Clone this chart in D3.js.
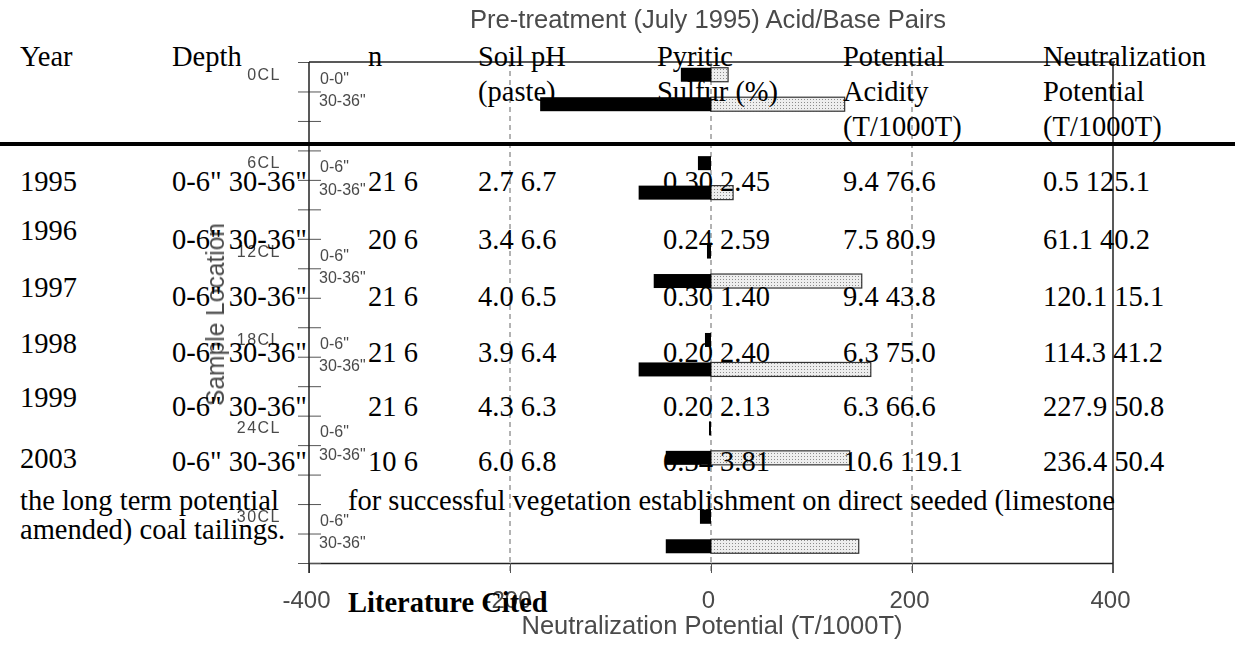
<!DOCTYPE html>
<html>
<head>
<meta charset="utf-8">
<script src="https://cdn.jsdelivr.net/npm/d3@7"></script>
<style>
  body { margin: 0; background: #fff; }
  .tbl { font-family: "Liberation Serif", "Times New Roman", serif; font-size: 28.5px; fill: #000; }
  .cht { font-family: "Liberation Sans", Arial, sans-serif; fill: #4a4a4a; }
</style>
</head>
<body>
<div id="page"></div>
<script>
// ---- chart data (acid / base pairs, T/1000T) ----
const locations = ['0CL', '6CL', '12CL', '18CL', '24CL', '30CL']
const depthTop = ['0-0"', '0-6"', '0-6"', '0-6"', '0-6"', '0-6"']
const depthBottom = ['30-36"', '30-36"', '30-36"', '30-36"', '30-36"', '30-36"']
const acidTop = [-30, -13, -4, -6, -2, -11]
const baseTop = [17, 0, 0, 0, 0, 0]
const acidBottom = [-170, -72, -57, -72, -45, -45]
const baseBottom = [133, 22, 150, 159, 138, 147]
const xTicks = [-400, -200, 0, 200, 400]
const gridTicks = [-200, 0, 200]

// ---- table text (page behind the chart) ----
const years = ['1995', '1996', '1997', '1998', '1999', '2003']
const depths = ['0-6" 30-36"', '0-6" 30-36"', '0-6" 30-36"', '0-6" 30-36"', '0-6" 30-36"', '0-6" 30-36"']
const nVals = ['21 6', '20 6', '21 6', '21 6', '21 6', '10 6']
const phVals = ['2.7 6.7', '3.4 6.6', '4.0 6.5', '3.9 6.4', '4.3 6.3', '6.0 6.8']
const sulfurVals = ['0.30 2.45', '0.24 2.59', '0.30 1.40', '0.20 2.40', '0.20 2.13', '0.34 3.81']
const acidityVals = ['9.4 76.6', '7.5 80.9', '9.4 43.8', '6.3 75.0', '6.3 66.6', '10.6 119.1']
const npVals = ['0.5 125.1', '61.1 40.2', '120.1 15.1', '114.3 41.2', '227.9 50.8', '236.4 50.4']
const headers = [['Year'], ['Depth'], ['n'], ['Soil pH', '(paste)'], ['Pyritic', 'Sulfur (%)'],
  ['Potential', 'Acidity', '(T/1000T)'], ['Neutralization', 'Potential', '(T/1000T)']]

const W = 1235, H = 647

const svg = d3.select('#page').append('svg')
  .attr('width', W)
  .attr('height', H)

const defs = svg.append('defs')
const pat = defs.append('pattern')
  .attr('id', 'stipple')
  .attr('width', 3).attr('height', 3)
  .attr('patternUnits', 'userSpaceOnUse')
pat.append('rect').attr('width', 3).attr('height', 3).attr('fill', '#eeeeee')
pat.append('rect').attr('width', 1).attr('height', 1).attr('fill', '#8c8c8c')

// ------------------ table text ------------------
const tbl = svg.append('g').attr('class', 'tbl')
const headX = [20, 172, 368, 478, 657, 843, 1043]
const headBase = [66, 101, 136]
headers.forEach((lines, i) => {
  lines.forEach((t, k) => {
    tbl.append('text').attr('x', headX[i]).attr('y', headBase[k]).text(t)
  })
})

// thick rule under header
tbl.append('rect')
  .attr('x', 0).attr('y', 142)
  .attr('width', W).attr('height', 4)
  .attr('fill', '#000')

const rowBase = [191, 249, 306, 362, 416, 471]
const yearLift = [0, 9, 9, 9, 9, 3]
const cols = [
  { x: 172, vals: depths },
  { x: 368, vals: nVals },
  { x: 478, vals: phVals },
  { x: 663, vals: sulfurVals },
  { x: 843, vals: acidityVals },
  { x: 1043, vals: npVals }
]
years.forEach((yr, r) => {
  tbl.append('text').attr('x', 20).attr('y', rowBase[r] - yearLift[r]).text(yr)
  cols.forEach(c => {
    tbl.append('text').attr('x', c.x).attr('y', rowBase[r]).text(c.vals[r])
  })
})

tbl.append('text').attr('x', 20).attr('y', 510).text('the long term potential')
tbl.append('text').attr('x', 348).attr('y', 510)
  .text('for successful vegetation establishment on direct seeded (limestone')
tbl.append('text').attr('x', 20).attr('y', 539).text('amended) coal tailings.')
tbl.append('text').attr('x', 348).attr('y', 612)
  .style('font-weight', 'bold')
  .text('Literature Cited')

// ------------------ chart ------------------
const plot = { left: 309, right: 1113, top: 62, bottom: 563 }

const chart = svg.append('g')
  .attr('class', 'cht')
  .style('mix-blend-mode', 'multiply')

const x = d3.scaleLinear()
  .domain([-400, 400])
  .range([plot.left, plot.right])

// 17 slots: two bars + one gap per location (last gap dropped)
const nSlots = locations.length * 3 - 1
const slot = d3.scaleLinear()
  .domain([0, nSlots])
  .range([plot.top, plot.bottom])
const barH = 14

// dashed grid lines
chart.append('g')
  .selectAll('line')
  .data(gridTicks)
  .join('line')
  .attr('x1', d => x(d)).attr('x2', d => x(d))
  .attr('y1', plot.top).attr('y2', plot.bottom + 10)
  .attr('stroke', '#666')
  .attr('stroke-width', 1)
  .attr('stroke-dasharray', '5,4')

// bar rows
const rows = []
locations.forEach((loc, g) => {
  rows.push({ s: g * 3, acid: acidTop[g], base: baseTop[g] })
  rows.push({ s: g * 3 + 1, acid: acidBottom[g], base: baseBottom[g] })
})
const cy = s => slot(s + 0.5) - 2

const bars = chart.append('g')
bars.selectAll('rect.base')
  .data(rows.filter(d => d.base > 0))
  .join('rect')
  .attr('class', 'base')
  .attr('x', d => x(0))
  .attr('y', d => cy(d.s) - barH / 2)
  .attr('width', d => x(d.base) - x(0))
  .attr('height', barH)
  .attr('fill', 'url(#stipple)')
  .attr('stroke', '#333')
  .attr('stroke-width', 1.2)
bars.selectAll('rect.acid')
  .data(rows)
  .join('rect')
  .attr('class', 'acid')
  .attr('x', d => x(d.acid))
  .attr('y', d => cy(d.s) - barH / 2)
  .attr('width', d => x(0) - x(d.acid))
  .attr('height', barH)
  .attr('fill', '#000')

// frame: top and right
chart.append('line')
  .attr('x1', plot.left).attr('x2', plot.right + 2)
  .attr('y1', plot.top).attr('y2', plot.top)
  .attr('stroke', '#222').attr('stroke-width', 1.5)
chart.append('line')
  .attr('x1', plot.right).attr('x2', plot.right)
  .attr('y1', plot.top).attr('y2', plot.bottom + 10)
  .attr('stroke', '#222').attr('stroke-width', 1.5)

// x axis
const xAxis = chart.append('g')
  .attr('transform', `translate(0,${plot.bottom})`)
  .call(d3.axisBottom(x).tickValues(xTicks).tickSize(10).tickSizeOuter(0).tickPadding(18)
    .tickFormat(d => String(d)))
xAxis.select('.domain').attr('stroke', '#222').attr('stroke-width', 1.5)
xAxis.selectAll('.tick line').attr('stroke', '#555')
xAxis.selectAll('.tick text')
  .attr('fill', '#4a4a4a')
  .style('font-family', '"Liberation Sans", Arial, sans-serif')
  .style('font-size', '24px')
  .attr('dx', -3)

// y axis: ticks at every slot boundary, crossing the axis line
const yAxis = chart.append('g')
  .attr('transform', `translate(${plot.left},0)`)
  .call(d3.axisLeft(slot).tickValues(d3.range(nSlots + 1)).tickSize(11).tickSizeOuter(0).tickFormat(''))
yAxis.select('.domain').remove()
yAxis.selectAll('.tick line').attr('x2', 12).attr('x1', -11).attr('stroke', '#555')
yAxis.append('line')
  .attr('x1', 0).attr('x2', 0)
  .attr('y1', plot.top).attr('y2', plot.bottom + 10)
  .attr('stroke', '#222').attr('stroke-width', 1.5)

// location labels and depth labels
const labels = chart.append('g')
labels.selectAll('text.loc')
  .data(locations)
  .join('text')
  .attr('class', 'loc')
  .attr('x', plot.left - 28)
  .attr('y', (d, g) => cy(g * 3) + 5)
  .attr('text-anchor', 'end')
  .style('font-size', '16px')
  .style('letter-spacing', '1.5px')
  .text(d => d)
labels.selectAll('text.dtop')
  .data(depthTop)
  .join('text')
  .attr('class', 'dtop')
  .attr('x', plot.left + 11)
  .attr('y', (d, g) => cy(g * 3) + 9)
  .style('font-size', '16px')
  .text(d => d)
labels.selectAll('text.dbot')
  .data(depthBottom)
  .join('text')
  .attr('class', 'dbot')
  .attr('x', plot.left + 10)
  .attr('y', (d, g) => cy(g * 3 + 1) + 2)
  .style('font-size', '16px')
  .text(d => d)

// axis titles
chart.append('text')
  .attr('x', 712).attr('y', 634)
  .attr('text-anchor', 'middle')
  .style('font-size', '25px')
  .attr('textLength', 381)
  .attr('lengthAdjust', 'spacingAndGlyphs')
  .text('Neutralization Potential (T/1000T)')
chart.append('text')
  .attr('transform', `translate(224,${(plot.top + plot.bottom) / 2 + 2}) rotate(-90)`)
  .attr('text-anchor', 'middle')
  .style('font-size', '25px')
  .attr('textLength', 183)
  .attr('lengthAdjust', 'spacingAndGlyphs')
  .text('Sample Location')
chart.append('text')
  .attr('x', 708).attr('y', 28)
  .attr('text-anchor', 'middle')
  .style('font-size', '25px')
  .attr('textLength', 476)
  .attr('lengthAdjust', 'spacingAndGlyphs')
  .text('Pre-treatment (July 1995) Acid/Base Pairs')
</script>
</body>
</html>
